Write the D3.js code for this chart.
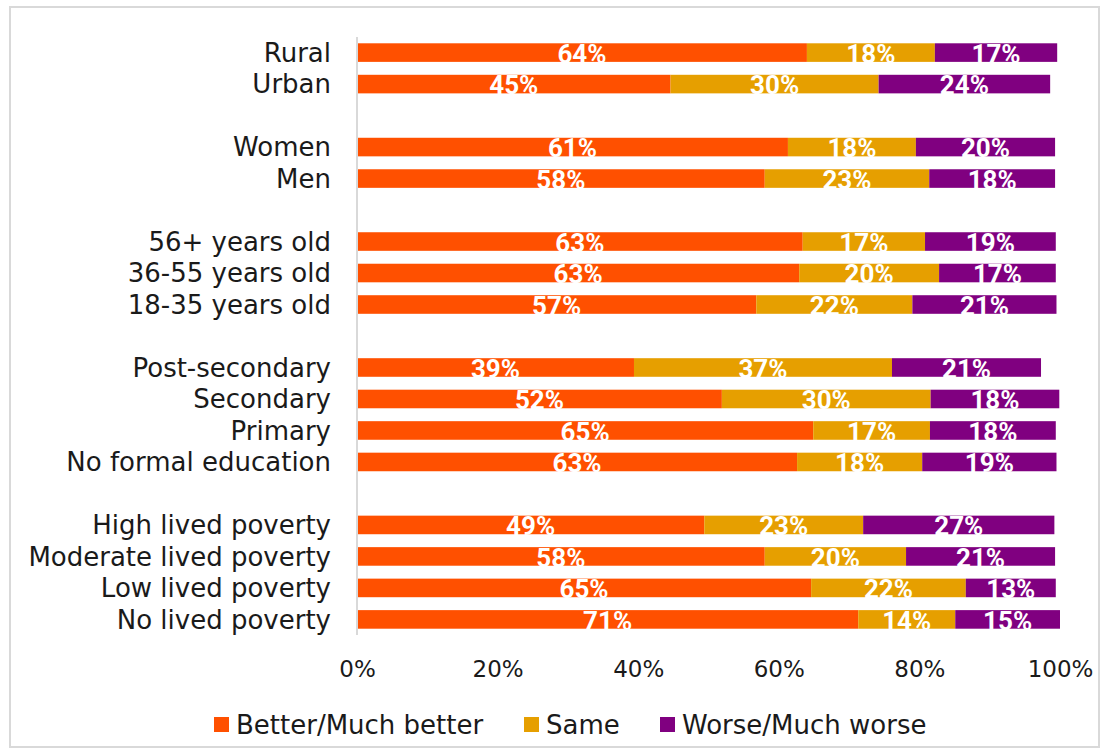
<!DOCTYPE html>
<html><head><meta charset="utf-8">
<script src="https://cdn.jsdelivr.net/npm/d3@7"></script>
<style>
html,body{margin:0;padding:0;background:#fff;}
svg{display:block;}
</style></head>
<body>
<svg id="chart" width="1109" height="756"></svg>
<script>
// ---- data ----
const groups = [
  ["Rural", "Urban"],
  ["Women", "Men"],
  ["56+ years old", "36-55 years old", "18-35 years old"],
  ["Post-secondary", "Secondary", "Primary", "No formal education"],
  ["High lived poverty", "Moderate lived poverty", "Low lived poverty", "No lived poverty"]
];
const categories = groups.flat();
const seriesNames = ["Better/Much better", "Same", "Worse/Much worse"];
const better = [64.0, 44.6, 61.3, 58.0, 63.4, 62.9, 56.8, 39.4, 51.9, 64.9, 62.6, 49.4, 58.0, 64.6, 71.3];
const same   = [18.2, 29.6, 18.2, 23.4, 17.4, 19.9, 22.2, 36.7, 29.7, 16.6, 17.8, 22.6, 20.1, 22.0, 13.8];
const worse  = [17.4, 24.4, 19.8, 17.9, 18.6, 16.6, 20.5, 21.2, 18.3, 17.9, 19.1, 27.2, 21.2, 12.8, 14.9];
const tickValues = [0, 20, 40, 60, 80, 100];
const colors = ["#FF5000", "#E69F00", "#800080"];

// ---- layout ----
const svg = d3.select("#chart");
const W = 1109, H = 756;
const margin = {left: 357, right: 49, top: 37, bottom: 121};
const fontFamily = "'DejaVu Sans', sans-serif";
const labelFont = "'Liberation Sans Narrow', 'Roboto', sans-serif";

svg.append("rect").attr("x", 10).attr("y", 7).attr("width", 1089).attr("height", 740)
  .attr("fill", "#fff").attr("stroke", "#d9d9d9").attr("stroke-width", 2);

// domain with spacer slots between groups
const domain = [];
groups.forEach((g, i) => {
  if (i > 0) domain.push("__gap" + i);
  g.forEach(c => domain.push(c));
});

const x = d3.scaleLinear().domain([0, 100]).range([margin.left, W - margin.right]);
const y = d3.scaleBand().domain(domain).range([margin.top, H - margin.bottom]).paddingInner(0.41).paddingOuter(0.2);

const rows = categories.map((c, i) => ({cat: c, vals: [better[i], same[i], worse[i]]}));
const stackData = rows.map(r => {
  const o = {cat: r.cat};
  seriesNames.forEach((s, j) => o[s] = r.vals[j]);
  return o;
});
const stack = d3.stack().keys(seriesNames)(stackData);

const g = svg.append("g");
stack.forEach((layer, si) => {
  const lg = g.append("g");
  lg.selectAll("rect").data(layer).join("rect")
    .attr("x", d => x(d[0]))
    .attr("y", d => y(d.data.cat))
    .attr("width", d => x(d[1]) - x(d[0]))
    .attr("height", y.bandwidth())
    .attr("fill", colors[si]);
});
const fmt = v => Math.round(v) + "%";
stack.forEach((layer, si) => {
  g.append("g").selectAll("text").data(layer).join("text")
    .attr("x", d => (x(d[0]) + x(d[1])) / 2)
    .attr("y", d => y(d.data.cat) + y.bandwidth() + 1)
    .attr("text-anchor", "middle")
    .attr("font-family", labelFont)
    .attr("font-weight", "bold")
    .attr("font-size", 26)
    .attr("fill", "#fff")
    .text(d => fmt(d[1] - d[0]));
});

// vertical axis line + category labels
svg.append("line").attr("x1", x(0)).attr("x2", x(0))
  .attr("y1", margin.top).attr("y2", H - margin.bottom)
  .attr("stroke", "#d9d9d9").attr("stroke-width", 2);

svg.append("g").selectAll("text").data(categories).join("text")
  .attr("x", 331)
  .attr("y", d => y(d) + y.bandwidth() / 2)
  .attr("dy", "0.36em")
  .attr("text-anchor", "end")
  .attr("font-family", fontFamily)
  .attr("font-size", 26)
  .attr("fill", "#1a1a1a")
  .text(d => d);

// x axis tick labels
const xAxis = d3.axisBottom(x).tickValues(tickValues).tickFormat(d => d + "%").tickSize(0).tickPadding(0);
const ax = svg.append("g").attr("transform", `translate(0,${H - margin.bottom + 42})`).call(xAxis);
ax.select(".domain").remove();
ax.selectAll("text").attr("font-family", fontFamily).attr("font-size", 23).attr("fill", "#1a1a1a").attr("dy", "0");

// legend
const legendX = [214, 524, 660];
const lg = svg.append("g");
seriesNames.forEach((s, i) => {
  lg.append("rect").attr("x", legendX[i]).attr("y", 717).attr("width", 15).attr("height", 15).attr("fill", colors[i]);
  lg.append("text").attr("x", legendX[i] + 22).attr("y", 724.5).attr("dy", "0.36em")
    .attr("font-family", fontFamily).attr("font-size", 26).attr("fill", "#1a1a1a").text(s);
});
</script>
</body></html>
